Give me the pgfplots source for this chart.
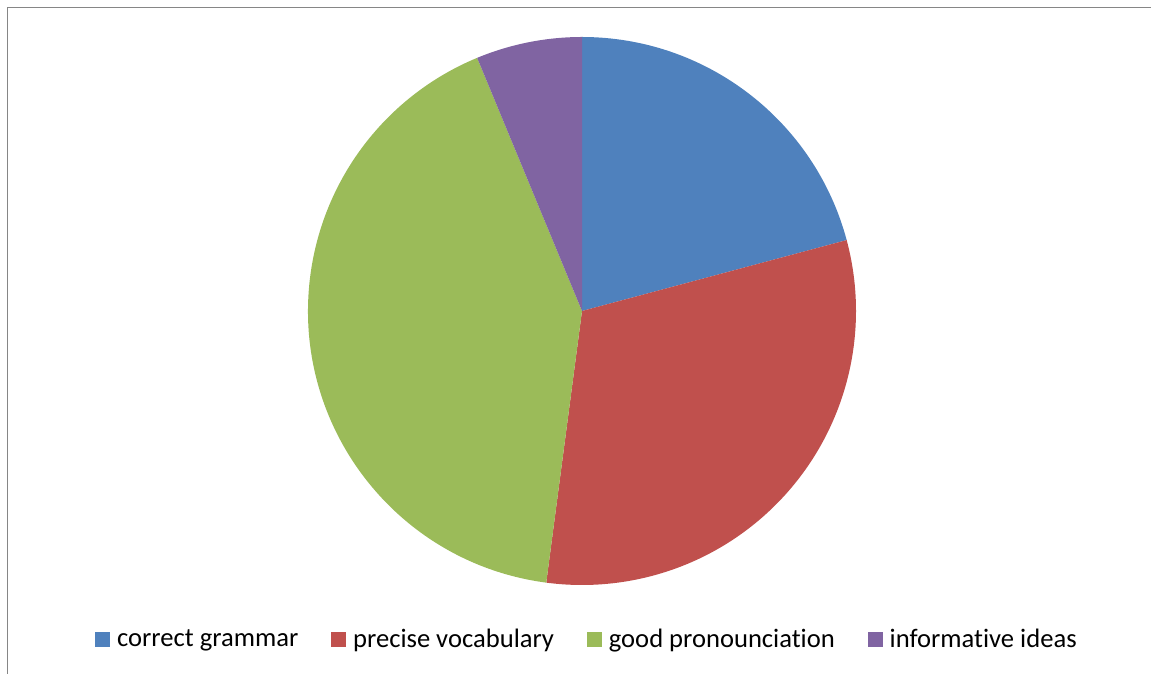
\documentclass[border=0pt]{standalone}
\usepackage{fontspec}
\setmainfont{Carlito}[Ligatures=NoCommon]
\usepackage{pgfplots}
\usepackage{pgfplotstable}
\pgfplotsset{compat=1.18}

\definecolor{slice0}{HTML}{4F81BD}
\definecolor{slice1}{HTML}{C0504D}
\definecolor{slice2}{HTML}{9BBB59}
\definecolor{slice3}{HTML}{8064A2}
\definecolor{framegray}{HTML}{868686}

% slice values, clockwise from 12 o'clock
\pgfplotstableread{
value
10
15
20
3
}\piedata

\begin{document}
\begin{tikzpicture}
% total and cumulative angles
\gdef\total{0}
\foreach \i in {0,...,3}{%
  \pgfplotstablegetelem{\i}{value}\of\piedata
  \pgfmathparse{\total+\pgfplotsretval}\xdef\total{\pgfmathresult}%
}
\gdef\cum{0}
\foreach \i in {0,...,3}{%
  \pgfplotstablegetelem{\i}{value}\of\piedata
  \pgfmathsetmacro{\a}{90-\cum/\total*360}%
  \pgfmathsetmacro{\b}{90-(\cum+\pgfplotsretval)/\total*360}%
  \expandafter\xdef\csname pieA\i\endcsname{\a}%
  \expandafter\xdef\csname pieB\i\endcsname{\b}%
  \pgfmathparse{\cum+\pgfplotsretval}\xdef\cum{\pgfmathresult}%
}
\begin{axis}[
  at={(291pt,181.5pt)}, anchor=center,
  x=137pt, y=137pt,
  xmin=-1, xmax=1, ymin=-1, ymax=1,
  hide axis,
  clip=false,
  legend columns=4,
  legend style={at={(0.511,-0.1)}, anchor=center, draw=none, fill=none,
    font=\fontsize{13.3}{15}\selectfont,
    /tikz/every even column/.append style={column sep=14.5pt}},
  legend image code/.code={\fill[#1] (0pt,-3.5pt) rectangle (7pt,3.5pt); \path (8.5pt,0pt);},
]
\pgfplotsinvokeforeach{0,...,3}{
  \fill[slice#1] (axis cs:0,0) -- ++(\csname pieA#1\endcsname:137pt)
    arc[start angle=\csname pieA#1\endcsname, end angle=\csname pieB#1\endcsname, radius=137pt] -- cycle;
}
\addlegendimage{slice0}\addlegendentry{correct grammar}
\addlegendimage{slice1}\addlegendentry{precise vocabulary}
\addlegendimage{slice2}\addlegendentry{good pronounciation}
\addlegendimage{slice3}\addlegendentry{informative ideas}
\end{axis}
\draw[framegray, line width=0.75pt] (3.75pt,0pt) -- (3.75pt,333.25pt) -- (575.5pt,333.25pt);
\pgfresetboundingbox
\path[use as bounding box] (0pt,0pt) rectangle (575.5pt,337pt);
\end{tikzpicture}
\end{document}
